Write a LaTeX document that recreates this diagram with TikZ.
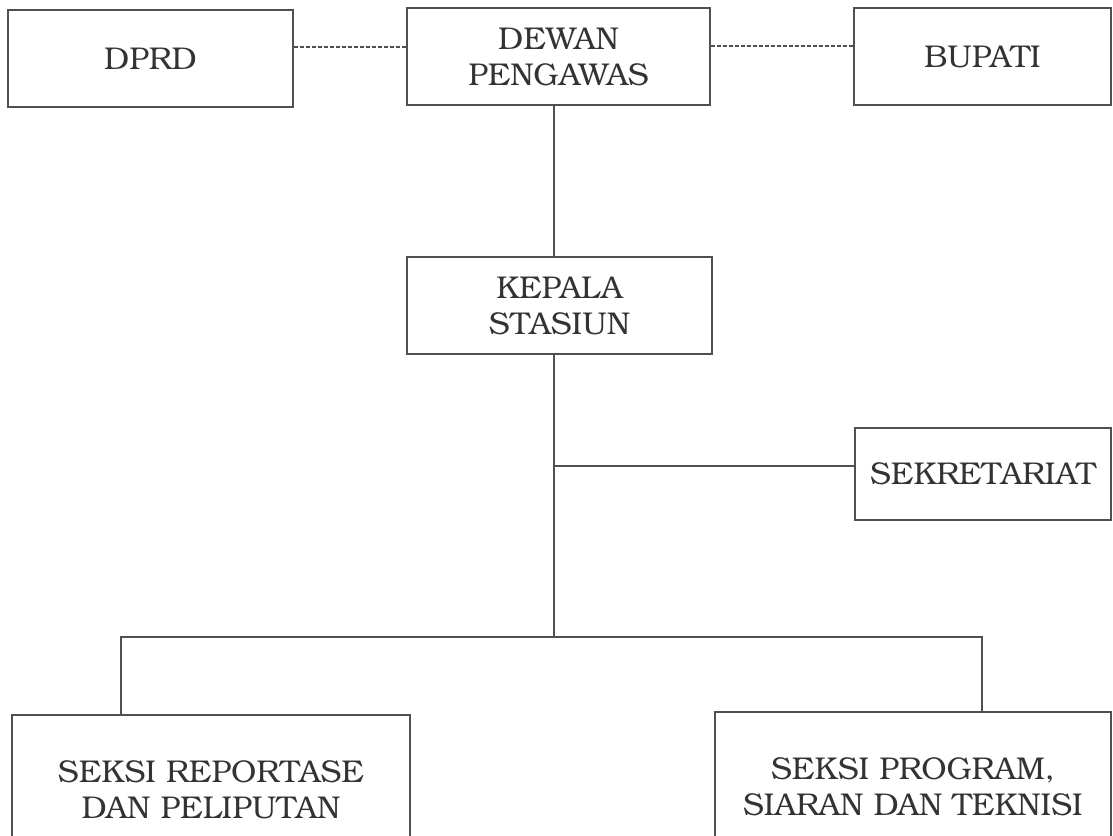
\documentclass[tikz,border=0pt]{standalone}
\usepackage{fontspec}
\setmainfont{texgyrebonum-regular.otf}
\definecolor{linecol}{HTML}{505050}
\definecolor{txtcol}{HTML}{333333}
\begin{document}
\begin{tikzpicture}[x=1pt,y=-1pt,
  box/.style={draw=linecol, line width=1.3pt, inner sep=0pt, align=center,
    text=txtcol, font=\fontsize{31.5}{36}\selectfont},
  conn/.style={draw=linecol, line width=1.3pt},
  dconn/.style={draw=linecol, line width=1.3pt, dash pattern=on 4pt off 2pt}]
\useasboundingbox (0,0) rectangle (1113,835);
\clip (0,0) rectangle (1113,835);
\node[box, minimum width=285, minimum height=97] (dprd) at (150.5,58.5) {DPRD};
\node[box, minimum width=303, minimum height=97] (dewan) at (558.5,56.5) {DEWAN\\PENGAWAS};
\node[box, minimum width=257, minimum height=97] (bupati) at (982.5,56.5) {BUPATI};
\node[box, minimum width=305, minimum height=97] (kepala) at (559.5,305.5) {KEPALA\\STASIUN};
\node[box, minimum width=256, minimum height=92] (sekr) at (983,474) {SEKRETARIAT};
\node[box, minimum width=398, minimum height=150] (rep) at (211,790) {SEKSI REPORTASE\\DAN PELIPUTAN};
\node[box, minimum width=396, minimum height=150] (prog) at (913,787) {SEKSI PROGRAM,\\SIARAN DAN TEKNISI};
\coordinate (spine) at (554,0);
\coordinate (dA) at (0,47);
\coordinate (dB) at (0,46);
\coordinate (br) at (0,466);
\coordinate (bar) at (0,637);
\coordinate (lx) at (121,0);
\coordinate (rx) at (982,0);
\draw[dconn] (dprd.east |- dA) -- (dewan.west |- dA);
\draw[dconn] (dewan.east |- dB) -- (bupati.west |- dB);
\draw[conn] (dewan.south -| spine) -- (kepala.north -| spine);
\draw[conn] (kepala.south -| spine) -- (spine |- bar);
\draw[conn] (spine |- br) -- (sekr.west |- br);
\draw[conn] (rep.north -| lx) -- (lx |- bar) -- (rx |- bar) -- (prog.north -| rx);
\end{tikzpicture}
\end{document}
